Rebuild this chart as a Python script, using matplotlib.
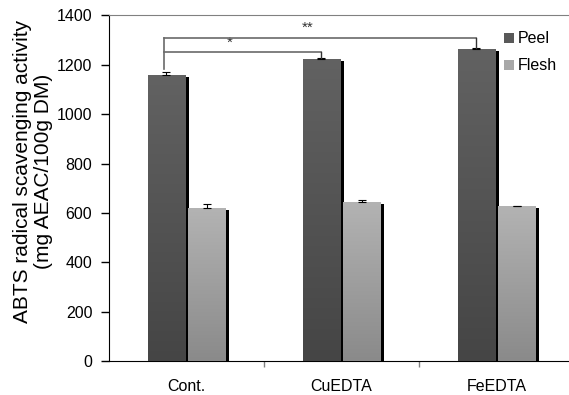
import numpy as np
import matplotlib
matplotlib.use("Agg")
import matplotlib.pyplot as plt
import matplotlib.patheffects as pe
from matplotlib.colors import LinearSegmentedColormap
from matplotlib.patches import Patch

plt.rcParams["font.family"] = ["Liberation Sans", "DejaVu Sans"]

groups = ["Cont.", "CuEDTA", "FeEDTA"]
peel = [1158, 1224, 1264]
peel_err = [12, 5, 3]
flesh = [619, 643, 628]
flesh_err = [19, 9, 2]

fig = plt.figure(figsize=(5.69, 3.95), dpi=100)
ax = fig.add_axes([0.1916, 0.0861, 0.8084, 0.8747])

x = np.arange(len(groups))
w = 0.24
off = 0.13

shadow = [pe.SimplePatchShadow(offset=(2.6, -1.3), shadow_rgbFace="k", alpha=1.0), pe.Normal()]
b1 = ax.bar(x - off, peel, w, color="#555555", zorder=2, path_effects=shadow)
b2 = ax.bar(x + off, flesh, w, color="#a0a0a0", zorder=2, path_effects=shadow)

# vertical gradient inside the bars
cm_peel = LinearSegmentedColormap.from_list("p", ["#454545", "#626262"])
cm_flesh = LinearSegmentedColormap.from_list("f", ["#8a8a8a", "#b3b3b3"])
grad = np.linspace(0, 1, 256).reshape(-1, 1)
for bars, cm in ((b1, cm_peel), (b2, cm_flesh)):
    for r in bars:
        bx, by = r.get_x(), r.get_y()
        bw, bh = r.get_width(), r.get_height()
        im = ax.imshow(grad, cmap=cm, origin="lower", aspect="auto",
                       extent=[bx, bx + bw, by, by + bh], zorder=3)
        im.set_clip_path(r)

ax.errorbar(x - off, peel, yerr=[np.zeros(3), peel_err], fmt="none",
            ecolor="k", elinewidth=0.8, capsize=2.6, capthick=0.8, zorder=4)
ax.errorbar(x + off, flesh, yerr=[np.zeros(3), flesh_err], fmt="none",
            ecolor="k", elinewidth=0.8, capsize=2.6, capthick=0.8, zorder=4)

# significance brackets
lc = "#6a6a6a"
x0 = x[0] - off - 0.015
ax.plot([x0, x0], [1182, 1310], color=lc, lw=1.2, zorder=5)
ax.plot([x0, x[2] - off], [1310, 1310], color=lc, lw=1.2, zorder=5)
ax.plot([x[2] - off, x[2] - off], [1310, peel[2] + peel_err[2]], color="#333333", lw=1, zorder=5)
ax.plot([x0, x[1] - off], [1251, 1251], color=lc, lw=1.2, zorder=5)
ax.plot([x[1] - off, x[1] - off], [1251, peel[1] + peel_err[1]], color="#333333", lw=1, zorder=5)
ax.text(0.28, 1290, "*", ha="center", va="center", fontsize=11, color="#333333")
ax.text(0.78, 1352, "**", ha="center", va="center", fontsize=11, color="#333333")

ax.set_xlim(-0.5, 2.468)
ax.set_ylim(0, 1400)
ax.set_yticks(range(0, 1401, 200))
ax.set_xticks(x)
ax.set_xticklabels(groups)
ax.set_xticks([0.5, 1.5], minor=True)
ax.tick_params(axis="x", which="major", length=0, pad=13, labelsize=11.5)
ax.tick_params(axis="x", which="minor", length=4, color="#808080", width=1)
ax.tick_params(axis="y", direction="out", length=5.5, width=1, pad=6.5, labelsize=11.5)

ax.spines["right"].set_visible(False)
ax.spines["top"].set_color("#808080")
ax.spines["left"].set_color("k")
ax.spines["bottom"].set_color("k")

ax.set_ylabel("ABTS radical scavenging activity\n(mg AEAC/100g DM)", fontsize=15,
              linespacing=1.1)
ax.yaxis.set_label_coords(-0.122, 0.55)

handles = [Patch(facecolor="#595959"), Patch(facecolor="#a8a8a8")]
ax.legend(handles, ["Peel", "Flesh"], loc="upper left", bbox_to_anchor=(0.825, 1.0),
          frameon=False, fontsize=11.5, handlelength=0.6, handleheight=0.6,
          handletextpad=0.2, labelspacing=0.75, borderaxespad=0.6)

fig.savefig("out.png", dpi=100)
